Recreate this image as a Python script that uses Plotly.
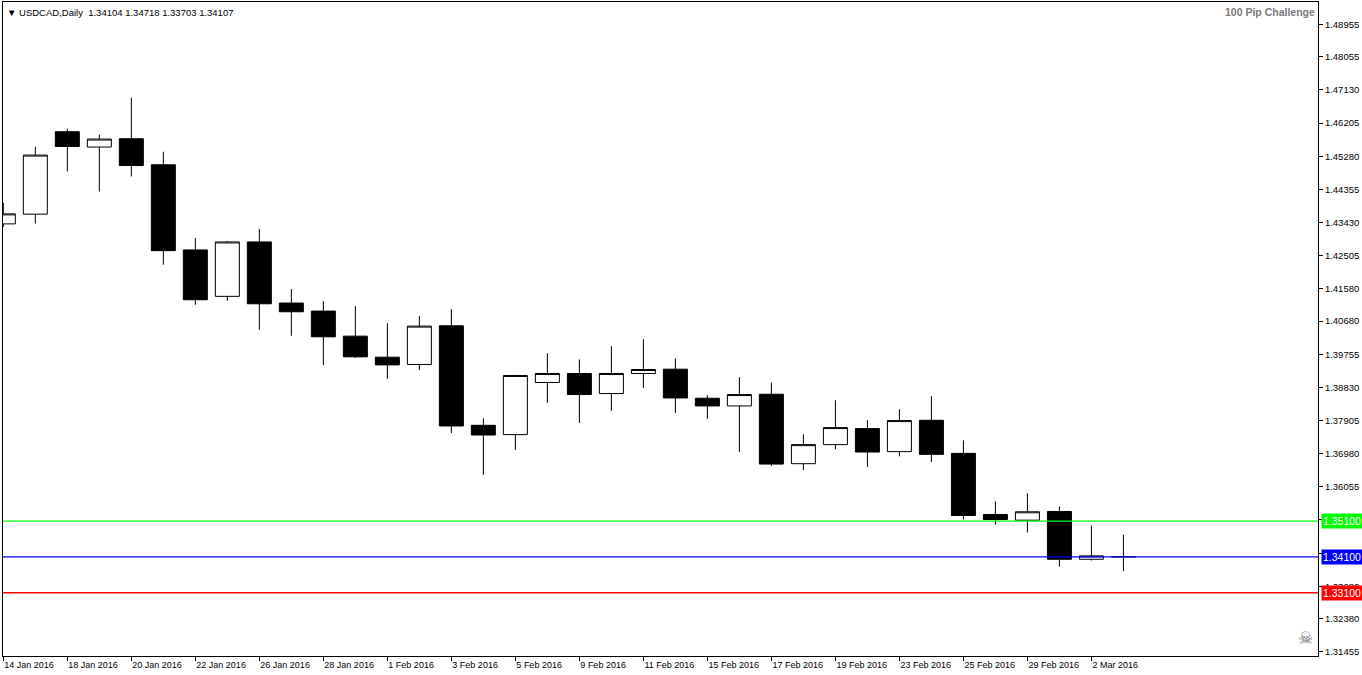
import plotly.graph_objects as go

# ---------------- data ----------------
dates = ["14 Jan 2016", "15 Jan 2016", "18 Jan 2016", "19 Jan 2016", "20 Jan 2016",
         "21 Jan 2016", "22 Jan 2016", "25 Jan 2016", "26 Jan 2016", "27 Jan 2016",
         "28 Jan 2016", "29 Jan 2016", "1 Feb 2016", "2 Feb 2016", "3 Feb 2016",
         "4 Feb 2016", "5 Feb 2016", "8 Feb 2016", "9 Feb 2016", "10 Feb 2016",
         "11 Feb 2016", "12 Feb 2016", "15 Feb 2016", "16 Feb 2016", "17 Feb 2016",
         "18 Feb 2016", "19 Feb 2016", "22 Feb 2016", "23 Feb 2016", "24 Feb 2016",
         "25 Feb 2016", "26 Feb 2016", "29 Feb 2016", "1 Mar 2016", "2 Mar 2016",
         "3 Mar 2016"]

opens = [1.43392, 1.43663, 1.45964, 1.45536, 1.45768, 1.45041, 1.42665, 1.41370, 1.42888,
         1.41183, 1.40959, 1.40260, 1.39673, 1.39469, 1.40548, 1.37772, 1.37512, 1.38966,
         1.39218, 1.38658, 1.39218, 1.39338, 1.38527, 1.38312, 1.38639, 1.36701, 1.37233,
         1.37680, 1.37037, 1.37912, 1.36989, 1.35284, 1.35125, 1.35368, 1.34034, 1.34104]
highs = [1.43979, 1.45544, 1.46047, 1.45880, 1.46914, 1.45404, 1.43000, 1.42916, 1.43252,
         1.41574, 1.41239, 1.41099, 1.40624, 1.40820, 1.41015, 1.37968, 1.39170, 1.39785,
         1.39609, 1.39981, 1.40177, 1.39637, 1.38611, 1.39114, 1.38966, 1.37521, 1.38471,
         1.37912, 1.38219, 1.38583, 1.37353, 1.35647, 1.35871, 1.35508, 1.34976, 1.34718]
lows = [1.43308, 1.43400, 1.44854, 1.44295, 1.44714, 1.42254, 1.41135, 1.41247, 1.40437,
        1.40269, 1.39450, 1.39654, 1.39067, 1.39310, 1.37557, 1.36394, 1.37082, 1.38396,
        1.37836, 1.38172, 1.38815, 1.38116, 1.37948, 1.37026, 1.36635, 1.36523, 1.37101,
        1.36607, 1.36906, 1.36746, 1.35144, 1.35004, 1.34781, 1.33830, 1.33998, 1.33703]
closes = [1.43671, 1.45312, 1.45553, 1.45759, 1.45021, 1.42645, 1.41275, 1.42888, 1.41163,
          1.40940, 1.40241, 1.39682, 1.39458, 1.40540, 1.37753, 1.37501, 1.39162, 1.39218,
          1.38630, 1.39218, 1.39329, 1.38535, 1.38312, 1.38630, 1.36690, 1.37233, 1.37708,
          1.37026, 1.37904, 1.36961, 1.35256, 1.35144, 1.35359, 1.34034, 1.34129, 1.34107]

tick_labels = ["14 Jan 2016", "18 Jan 2016", "20 Jan 2016", "22 Jan 2016", "26 Jan 2016",
               "28 Jan 2016", "1 Feb 2016", "3 Feb 2016", "5 Feb 2016", "9 Feb 2016",
               "11 Feb 2016", "15 Feb 2016", "17 Feb 2016", "19 Feb 2016", "23 Feb 2016",
               "25 Feb 2016", "29 Feb 2016", "2 Mar 2016"]
price_ticks = [1.31455, 1.32380, 1.33280, 1.34205, 1.35130, 1.36055, 1.36980, 1.37905,
               1.38830, 1.39755, 1.40680, 1.41580, 1.42505, 1.43430, 1.44355, 1.45280,
               1.46205, 1.47130, 1.48055, 1.48955]

levels = [1.35100, 1.34100, 1.33100]
level_colors = ["#00ff00", "#0000ff", "#ff0000"]

symbol = "USDCAD,Daily"
title_right = "100 Pip Challenge"

# ---------------- figure ----------------
FONT = "Liberation Sans, Arial, sans-serif"
idx = list(range(len(dates)))

fig = go.Figure()
fig.add_trace(go.Candlestick(
    x=idx, open=opens, high=highs, low=lows, close=closes,
    text=dates, hoverinfo="text+y",
    increasing=dict(line=dict(color="black", width=1), fillcolor="white"),
    decreasing=dict(line=dict(color="black", width=1), fillcolor="black"),
    whiskerwidth=0,
    showlegend=False,
))

for lv, col in zip(levels, level_colors):
    fig.add_shape(type="line", xref="paper", x0=0, x1=1, yref="y", y0=lv, y1=lv,
                  line=dict(color=col, width=1.3), layer="above")
    fig.add_annotation(xref="paper", x=1, yref="y", y=lv, xanchor="left", yanchor="middle",
                       xshift=3, text=f"{lv:.5f}", showarrow=False,
                       font=dict(family=FONT, size=10.5, color="white"),
                       bgcolor=col, borderpad=1)

last = len(dates) - 1
header = ("\u25BC\u00a0" + symbol + "\u00a0\u00a0"
          + f"{opens[last]:.5f} {highs[last]:.5f} {lows[last]:.5f} {closes[last]:.5f}")
fig.add_annotation(xref="paper", yref="paper", x=0, y=1, xanchor="left", yanchor="top",
                   xshift=2, yshift=-3, text=header, showarrow=False, bgcolor="white",
                   font=dict(family=FONT, size=9.5, color="black"))
fig.add_annotation(xref="paper", yref="paper", x=1, y=1, xanchor="right", yanchor="top",
                   xshift=-1, yshift=-2, text="<b>" + title_right + "</b>", showarrow=False,
                   font=dict(family=FONT, size=10.5, color="#7a7a7a"))
fig.add_annotation(xref="paper", yref="paper", x=1, y=0, xanchor="right", yanchor="bottom",
                   xshift=-3, yshift=6, text="\u2620", showarrow=False,
                   font=dict(family="DejaVu Sans", size=17, color="#6a6a6a"))

fig.update_layout(
    width=1362, height=675,
    margin=dict(l=3, r=44, t=2, b=19),
    paper_bgcolor="white", plot_bgcolor="white",
    boxgap=0.25, boxgroupgap=0,
    showlegend=False,
    font=dict(family=FONT, size=9.5, color="black"),
)
fig.update_xaxes(
    range=[-0.01, 41.08], rangeslider=dict(visible=False),
    tickmode="array", tickvals=idx[::2], ticktext=tick_labels,
    ticks="outside", ticklen=4, tickcolor="black", ticklabelposition="outside right",
    showgrid=False, zeroline=False, showline=True, linecolor="black", linewidth=1,
    mirror=True, tickfont=dict(family=FONT, size=9, color="black"),
)
fig.update_yaxes(
    range=[1.31335, 1.49583], side="right",
    tickmode="array", tickvals=price_ticks, tickformat=".5f",
    ticks="outside", ticklen=4, tickcolor="black",
    showgrid=False, zeroline=False, showline=True, linecolor="black", linewidth=1,
    mirror=True, tickfont=dict(family=FONT, size=9.5, color="black"),
)

fig.write_html("out.html", config={"displayModeBar": False},
               post_script="document.body.style.margin='0';document.documentElement.style.overflow='hidden';")
